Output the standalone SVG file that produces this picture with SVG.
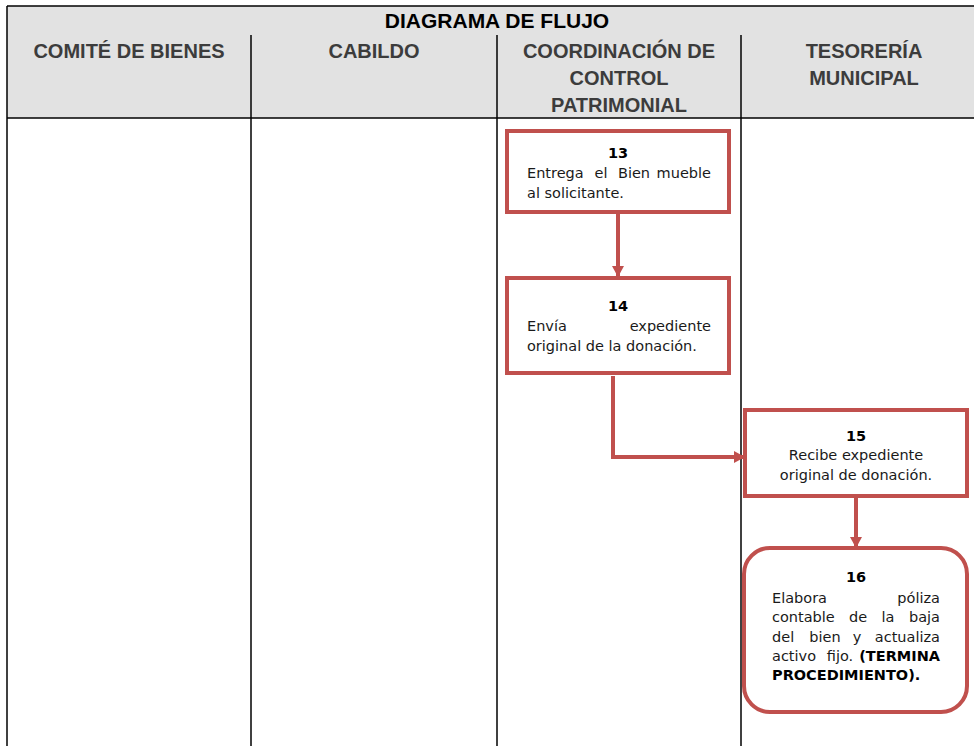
<svg xmlns="http://www.w3.org/2000/svg" width="974" height="746" viewBox="0 0 974 746">
<defs>
<style>
.grid{stroke:#000;stroke-width:1.5;fill:none}
.box{fill:#fff;stroke:#C0504D;stroke-width:4}
.conn{fill:none;stroke:#C0504D;stroke-width:4}
.hdr{font-family:"Liberation Sans",Arial,sans-serif;font-weight:bold;font-size:20px;fill:#3c3c3c;text-anchor:middle}
.ttl{font-family:"Liberation Sans",Arial,sans-serif;font-weight:bold;font-size:21px;fill:#000;text-anchor:middle}
.t{font-family:"DejaVu Sans",Verdana,sans-serif;font-size:14.5px;fill:#1a1a1a}
.c{text-anchor:middle}
.e{text-anchor:end}
.b{font-weight:bold;fill:#000}
</style>
<marker id="ah" markerWidth="12" markerHeight="12" refX="10" refY="6" orient="auto" markerUnits="userSpaceOnUse">
<path d="M0,0 L11,6 L0,12 Z" fill="#C0504D"/>
</marker>
</defs>
<rect x="0" y="0" width="974" height="746" fill="#fff"/>
<g id="header">
<rect x="7" y="6" width="967" height="112" fill="#E2E2E2"/>
<line class="grid" x1="7" y1="6" x2="974" y2="6"/>
<line class="grid" x1="7" y1="118" x2="974" y2="118"/>
<line class="grid" x1="7" y1="6" x2="7" y2="746"/>
<line class="grid" x1="251" y1="35" x2="251" y2="746"/>
<line class="grid" x1="497" y1="35" x2="497" y2="746"/>
<line class="grid" x1="741" y1="35" x2="741" y2="746"/>
<text class="ttl" x="497" y="28">DIAGRAMA DE FLUJO</text>
<text class="hdr" x="129" y="58">COMITÉ DE BIENES</text>
<text class="hdr" x="374" y="58">CABILDO</text>
<text class="hdr" x="619" y="58">COORDINACIÓN DE</text>
<text class="hdr" x="619" y="85">CONTROL</text>
<text class="hdr" x="619" y="112">PATRIMONIAL</text>
<text class="hdr" x="864" y="58">TESORERÍA</text>
<text class="hdr" x="864" y="85">MUNICIPAL</text>
</g>
<g id="connectors">
<line class="conn" x1="618" y1="212" x2="618" y2="276" marker-end="url(#ah)"/>
<polyline class="conn" points="613,376 613,457 744,457" marker-end="url(#ah)"/>
<line class="conn" x1="856" y1="496" x2="856" y2="547" marker-end="url(#ah)"/>
</g>
<g id="n13">
<rect class="box" x="507" y="131" width="222" height="81"/>
<text class="t c b" x="618" y="158">13</text>
<text class="t" x="527" y="178">Entrega</text>
<text class="t c" x="601" y="178">el</text>
<text class="t c" x="634" y="178">Bien</text>
<text class="t e" x="711" y="178">mueble</text>
<text class="t" x="527" y="198">al solicitante.</text>
</g>
<g id="n14">
<rect class="box" x="507" y="278" width="222" height="95"/>
<text class="t c b" x="618" y="311">14</text>
<text class="t" x="527" y="331">Envía</text>
<text class="t e" x="711" y="331">expediente</text>
<text class="t" x="527" y="351">original de la donación.</text>
</g>
<g id="n15">
<rect class="box" x="745" y="410" width="222" height="86"/>
<text class="t c b" x="856" y="441">15</text>
<text class="t c" x="856" y="460">Recibe expediente</text>
<text class="t c" x="856" y="480">original de donación.</text>
</g>
<g id="n16">
<rect class="box" x="744" y="548" width="223" height="164" rx="26" ry="26"/>
<text class="t c b" x="856" y="582">16</text>
<text class="t" x="772" y="603">Elabora</text>
<text class="t e" x="940" y="603">póliza</text>
<text class="t" x="772" y="622">contable</text>
<text class="t c" x="858" y="622">de</text>
<text class="t c" x="888" y="622">la</text>
<text class="t e" x="940" y="622">baja</text>
<text class="t" x="772" y="642">del</text>
<text class="t c" x="825" y="642">bien</text>
<text class="t c" x="857" y="642">y</text>
<text class="t e" x="940" y="642">actualiza</text>
<text class="t" x="772" y="661">activo</text>
<text class="t c" x="840" y="661">fijo.</text>
<text class="t e b" x="940" y="661">(TERMINA</text>
<text class="t b" x="772" y="680">PROCEDIMIENTO).</text>
</g>
</svg>
